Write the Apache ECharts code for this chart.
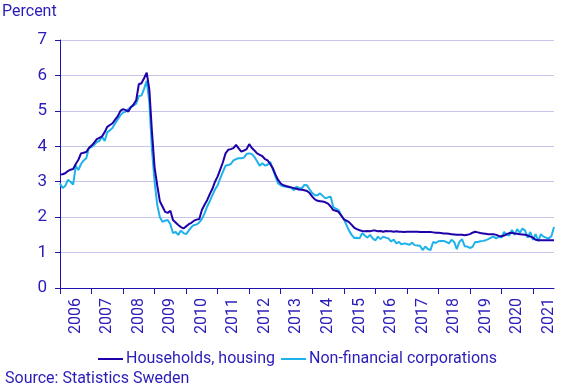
<!DOCTYPE html>
<html>
<head>
<meta charset="utf-8">
<script src="https://cdn.jsdelivr.net/npm/echarts@6/dist/echarts.min.js"></script>
<style>
html,body{margin:0;padding:0;background:#fff;}
#chart{width:568px;height:390px;}
</style>
</head>
<body>
<div id="chart"></div>
<script>
// Years covered (monthly data, Jan 2006 - Sep 2021)
const years = [2006,2007,2008,2009,2010,2011,2012,2013,2014,2015,2016,2017,2018,2019,2020,2021];
const monthsInLastYear = 9;

const households = [
  3.20,3.21,3.24,3.30,3.34,3.36,3.50,3.62,3.80,3.82,3.84,3.95,
  4.02,4.10,4.20,4.24,4.28,4.40,4.55,4.60,4.65,4.75,4.85,5.00,
  5.05,5.02,4.98,5.10,5.18,5.30,5.75,5.78,5.92,6.08,5.60,4.40,
  3.40,2.90,2.45,2.30,2.15,2.12,2.18,1.92,1.85,1.78,1.72,1.68,
  1.74,1.80,1.84,1.90,1.93,1.95,2.20,2.35,2.48,2.65,2.80,3.00,
  3.15,3.35,3.55,3.80,3.90,3.92,3.95,4.04,3.94,3.85,3.88,3.92,
  4.06,3.95,3.88,3.80,3.76,3.72,3.64,3.60,3.50,3.38,3.20,3.05,
  2.95,2.90,2.88,2.86,2.84,2.82,2.80,2.78,2.77,2.76,2.74,2.68,
  2.58,2.50,2.46,2.45,2.44,2.42,2.38,2.30,2.20,2.18,2.15,2.05,
  1.94,1.90,1.86,1.78,1.70,1.66,1.63,1.61,1.60,1.61,1.60,1.62,
  1.62,1.60,1.61,1.59,1.61,1.60,1.60,1.59,1.60,1.59,1.59,1.58,
  1.59,1.59,1.59,1.59,1.59,1.58,1.58,1.58,1.58,1.58,1.57,1.56,
  1.56,1.55,1.54,1.54,1.53,1.52,1.51,1.50,1.50,1.50,1.49,1.50,
  1.52,1.56,1.59,1.57,1.55,1.54,1.53,1.52,1.52,1.52,1.50,1.47,
  1.46,1.48,1.52,1.55,1.56,1.54,1.53,1.52,1.51,1.50,1.48,1.45,
  1.42,1.36,1.35,1.35,1.35,1.35,1.35,1.35,1.35
];

const corporations = [
  2.95,2.82,2.88,3.05,3.00,2.92,3.45,3.33,3.50,3.60,3.66,3.95,
  3.98,4.04,4.12,4.15,4.27,4.15,4.40,4.45,4.52,4.65,4.76,4.88,
  4.95,4.98,5.05,5.12,5.15,5.20,5.42,5.43,5.62,5.85,5.25,3.90,
  3.00,2.35,2.00,1.87,1.90,1.92,1.80,1.55,1.58,1.50,1.62,1.55,
  1.52,1.62,1.72,1.78,1.79,1.85,1.95,2.10,2.30,2.45,2.62,2.78,
  2.90,3.10,3.28,3.45,3.47,3.50,3.60,3.64,3.66,3.66,3.68,3.78,
  3.80,3.78,3.70,3.58,3.45,3.52,3.46,3.48,3.56,3.35,3.15,2.95,
  2.90,2.87,2.86,2.84,2.83,2.76,2.86,2.82,2.81,2.91,2.90,2.78,
  2.68,2.62,2.62,2.67,2.60,2.53,2.56,2.58,2.28,2.24,2.20,2.05,
  1.95,1.78,1.62,1.50,1.41,1.42,1.40,1.55,1.48,1.42,1.50,1.40,
  1.34,1.45,1.38,1.45,1.42,1.40,1.31,1.37,1.26,1.30,1.23,1.26,
  1.24,1.22,1.28,1.21,1.20,1.19,1.07,1.17,1.10,1.07,1.30,1.27,
  1.32,1.33,1.33,1.30,1.26,1.36,1.30,1.10,1.30,1.38,1.18,1.17,
  1.13,1.16,1.30,1.30,1.32,1.33,1.35,1.38,1.42,1.45,1.40,1.45,
  1.42,1.58,1.50,1.48,1.64,1.50,1.66,1.56,1.68,1.62,1.42,1.58,
  1.36,1.52,1.32,1.52,1.45,1.42,1.40,1.46,1.72
];

const seriesNames = ['Households, housing', 'Non-financial corporations'];
const yTicks = [0,1,2,3,4,5,6,7];

const categories = [];
years.forEach((y, k) => {
  const n = (k === years.length - 1) ? monthsInLastYear : 12;
  for (let m = 1; m <= n; m++) categories.push(y + '-' + (m < 10 ? '0' + m : m));
});

const textColor = '#2a1cb8';
const axisColor = '#2010b0';
const font = 'Roboto, "Liberation Sans", sans-serif';

const chart = echarts.init(document.getElementById('chart'));
chart.setOption({
  animation: false,
  textStyle: { fontFamily: font },
  grid: { left: 60, right: 14, top: 40, bottom: 102, containLabel: false },
  graphic: [
    { type: 'text', left: 2, top: 4, style: { text: 'Percent', fill: textColor, font: '16px ' + font } },
    { type: 'text', left: 5, top: 371, style: { text: 'Source: Statistics Sweden', fill: textColor, font: '16px ' + font } }
  ],
  legend: {
    data: seriesNames,
    left: 93,
    top: 346,
    icon: 'rect',
    itemWidth: 25,
    itemHeight: 2,
    itemGap: 6,
    textStyle: { color: textColor, fontSize: 16, fontFamily: font, padding: [0, 0, 0, -2] }
  },
  xAxis: {
    type: 'category',
    data: categories,
    boundaryGap: false,
    axisLine: { lineStyle: { color: axisColor, width: 1 } },
    axisTick: {
      show: true,
      length: 6,
      lineStyle: { color: axisColor },
      interval: (i) => i % 12 === 0
    },
    axisLabel: {
      interval: (i) => i % 12 === 6,
      rotate: 90,
      margin: 10,
      color: textColor,
      fontSize: 16,
      fontFamily: font,
      formatter: (v) => v.slice(0, 4)
    },
    splitLine: { show: false }
  },
  yAxis: {
    type: 'value',
    min: yTicks[0],
    max: yTicks[yTicks.length - 1],
    interval: 1,
    axisLine: { show: true, lineStyle: { color: axisColor, width: 1 } },
    axisTick: { show: true, length: 5, lineStyle: { color: axisColor } },
    axisLabel: { color: textColor, fontSize: 17, margin: 13, fontFamily: font },
    splitLine: { lineStyle: { color: '#c6c6ea', width: 1 } }
  },
  series: [
    {
      name: seriesNames[0],
      type: 'line',
      data: households,
      symbol: 'none',
      lineStyle: { color: '#2000a8', width: 2 },
      itemStyle: { color: '#2000a8' },
      z: 3
    },
    {
      name: seriesNames[1],
      type: 'line',
      data: corporations,
      symbol: 'none',
      lineStyle: { color: '#1eb2ea', width: 2 },
      itemStyle: { color: '#1eb2ea' },
      z: 2
    }
  ]
});
</script>
</body>
</html>
